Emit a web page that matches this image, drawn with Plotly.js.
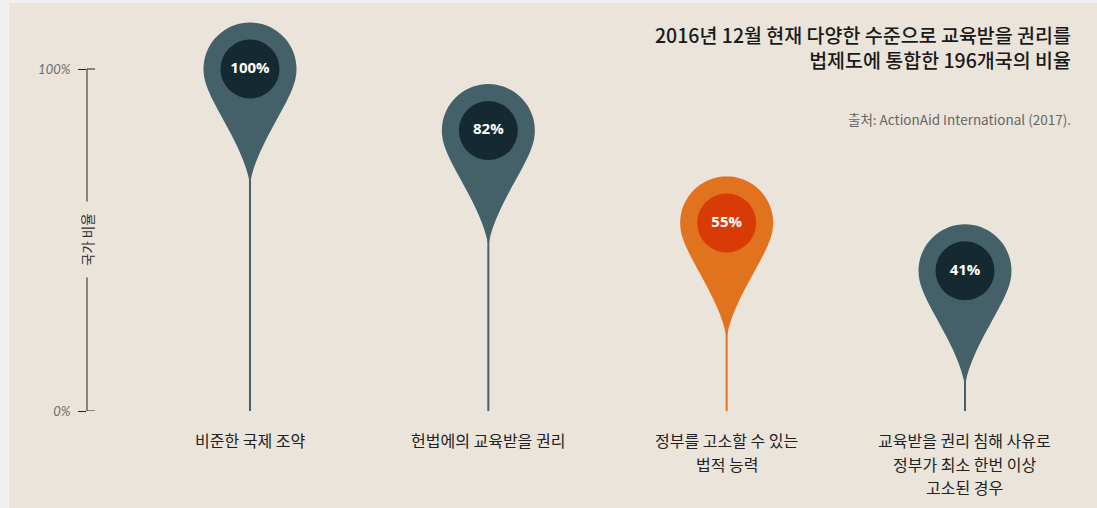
<!DOCTYPE html>
<html>
<head>
<meta charset="utf-8">
<script src="https://cdn.plot.ly/plotly-3.0.1.min.js"></script>
<style>
  html, body { margin: 0; padding: 0; background: #f0f0f0; }
  #chart { position: absolute; left: 9px; top: 3px; width: 1088px; height: 505px; }
</style>
</head>
<body>
<div id="chart"></div>
<script>
// ---- data ----
const categories = [
  '비준한 국제 조약',
  '헌법에의 교육받을 권리',
  '정부를 고소할 수 있는<br>법적 능력',
  '교육받을 권리 침해 사유로<br>정부가 최소 한번 이상<br>고소된 경우'
];
const values = [100, 82, 55, 41];
const valueLabels = ['100%', '82%', '55%', '41%'];
const pinColors = ['#44616a', '#44616a', '#e2731e', '#44616a'];
const innerColors = ['#152931', '#152931', '#d83b06', '#152931'];
const yTickVals = [0, 100];
const yTickText = ['0%', '100%'];
const titleText = '2016년 12월 현재 다양한 수준으로 교육받을 권리를<br>법제도에 통합한 196개국의 비율';
const sourceText = '출처: ActionAid International (2017).';
const yAxisTitle = '국가 비율';

// ---- styling ----
const BG = '#eae4db';
const KR = '"Noto Sans CJK KR", "Noto Sans", sans-serif';
const xs = categories.map((c, i) => i);

// pin outline in pixel units (y up), anchored at the data point
function pinPath() {
  const r = 46.5, a0 = -20;
  const pts = [];
  for (let a = a0; a <= 180 - a0 + 0.001; a += 5) {
    const t = a * Math.PI / 180;
    pts.push([r * Math.cos(t), r * Math.sin(t)]);
  }
  const f = v => v.toFixed(2);
  let d = 'M' + f(pts[0][0]) + ',' + f(pts[0][1]);
  for (let k = 1; k < pts.length; k++) d += ' L' + f(pts[k][0]) + ',' + f(pts[k][1]);
  const L = pts[pts.length - 1];
  d += ' C' + f(L[0] + 7) + ',-38 -7,-78 -0.8,-111';
  d += ' L0.8,-111';
  d += ' C7,-78 ' + f(pts[0][0] - 7) + ',-38 ' + f(pts[0][0]) + ',' + f(pts[0][1]);
  d += ' Z';
  return d;
}
const PIN = pinPath();

const traces = [];
// stems
xs.forEach((x, i) => {
  traces.push({
    type: 'scatter', mode: 'lines', x: [x, x], y: [0, values[i]],
    line: { color: pinColors[i], width: 2 }, hoverinfo: 'skip', showlegend: false
  });
});
// inner circles
traces.push({
  type: 'scatter', mode: 'markers', x: xs, y: values,
  marker: { size: 59, color: innerColors, line: { width: 0 } },
  hoverinfo: 'skip', showlegend: false
});
// value labels
traces.push({
  type: 'scatter', mode: 'text', x: xs, y: values, text: valueLabels,
  textposition: 'middle center',
  textfont: { family: '"Open Sans", sans-serif', size: 15, color: '#ffffff', weight: 700 },
  hoverinfo: 'skip', showlegend: false
});

const shapes = [];
xs.forEach((x, i) => {
  shapes.push({
    type: 'path', layer: 'below', xref: 'x', yref: 'y',
    xsizemode: 'pixel', ysizemode: 'pixel', xanchor: x, yanchor: values[i],
    path: PIN, fillcolor: pinColors[i], line: { width: 0 }
  });
});
// y axis line (0..100) and right halves of tick marks
shapes.push({
  type: 'line', layer: 'below', xref: 'paper', yref: 'y', x0: 0, x1: 0,
  y0: yTickVals[0], y1: yTickVals[yTickVals.length - 1], line: { color: '#222', width: 1 }
});
yTickVals.forEach(v => {
  shapes.push({
    type: 'line', layer: 'below', xref: 'paper', yref: 'y', xsizemode: 'pixel', xanchor: 0,
    x0: 0, x1: 8, y0: v, y1: v, line: { color: '#222', width: 1 }
  });
});

const annotations = [];
// category labels (one annotation per line to keep the reference line spacing)
categories.forEach((c, i) => {
  c.split('<br>').forEach((line, j) => {
    annotations.push({
      xref: 'x', yref: 'y', x: i, y: 0, yanchor: 'middle', xanchor: 'center',
      yshift: -(29 + j * 23.5), text: line, showarrow: false,
      font: { family: KR, size: 16, color: '#222' }
    });
  });
});
// y axis title, breaking the axis line
annotations.push({
  xref: 'paper', yref: 'y', x: 0, y: 50, xanchor: 'center', yanchor: 'middle',
  text: yAxisTitle, textangle: -90, showarrow: false, bgcolor: BG, borderpad: 11,
  font: { family: KR, size: 13.5, color: '#333' }
});
// title
annotations.push({
  xref: 'paper', yref: 'paper', x: 1, y: 1 - 44 / 408, xanchor: 'right', yanchor: 'middle',
  xshift: -24, align: 'right', text: titleText, showarrow: false,
  font: { family: KR, size: 19.5, color: '#1a1a1a', weight: 500 }
});
// source
annotations.push({
  xref: 'paper', yref: 'paper', x: 1, y: 1 - 115.5 / 408, xanchor: 'right', yanchor: 'middle',
  xshift: -24, align: 'right', text: sourceText, showarrow: false,
  font: { family: KR, size: 13.5, color: '#666' }
});

const layout = {
  width: 1088, height: 505,
  margin: { l: 78, r: 0, t: 0, b: 97, pad: 0 },
  paper_bgcolor: BG, plot_bgcolor: BG,
  showlegend: false,
  xaxis: { range: [-0.6839, 3.5539], visible: false, fixedrange: true },
  yaxis: {
    range: [0, 119.3], showgrid: false, zeroline: false, showline: false,
    tickvals: yTickVals, ticktext: yTickText, ticks: 'outside', ticklen: 8,
    tickwidth: 1, tickcolor: '#222', ticklabelstandoff: 5,
    tickfont: { family: 'Lato, "Noto Sans", sans-serif', size: 13, color: '#6e6e6e', style: 'italic' },
    fixedrange: true
  },
  shapes: shapes,
  annotations: annotations
};

Plotly.newPlot('chart', traces, layout, { displayModeBar: false, staticPlot: true });
</script>
</body>
</html>
